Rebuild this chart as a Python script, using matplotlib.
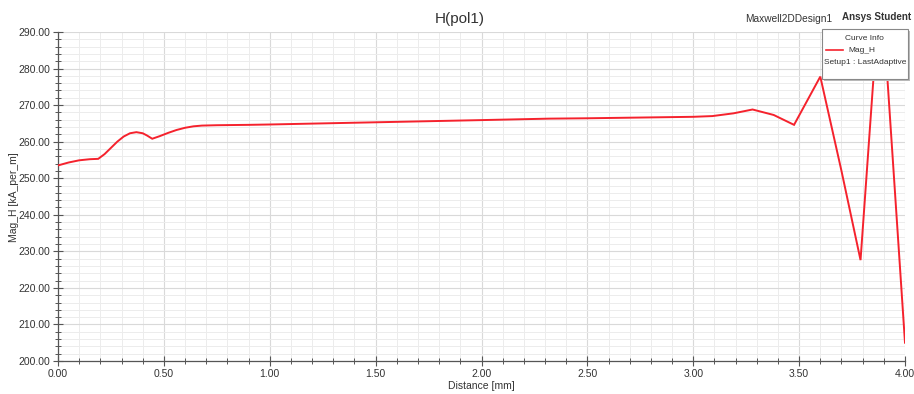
import matplotlib
matplotlib.use("Agg")
import matplotlib.pyplot as plt
from matplotlib.patches import Rectangle
from matplotlib.ticker import MultipleLocator, FormatStrFormatter
from matplotlib.lines import Line2D

plt.rcParams['font.family'] = ['Liberation Sans', 'DejaVu Sans']

# Field strength along the polyline pol1
distance_mm = [0.00, 0.05, 0.10, 0.15, 0.19, 0.22, 0.25, 0.28, 0.31, 0.34, 0.37, 0.40,
               0.42, 0.445, 0.48, 0.52, 0.56, 0.60, 0.64, 0.68, 0.75, 0.90, 1.00,
               1.25, 1.50, 1.75, 2.00, 2.32, 2.50, 2.75, 3.00, 3.09, 3.19, 3.28,
               3.38, 3.476, 3.60, 3.70, 3.79, 3.885, 4.00]
mag_h = [253.5, 254.3, 254.9, 255.2, 255.3, 256.6, 258.3, 260.0, 261.4, 262.3, 262.6, 262.3,
         261.7, 260.8, 261.5, 262.4, 263.2, 263.8, 264.2, 264.4, 264.5, 264.6, 264.7,
         265.0, 265.3, 265.6, 265.9, 266.3, 266.4, 266.6, 266.8, 267.0, 267.75, 268.8,
         267.3, 264.6, 277.8, 252.0, 227.6, 305.0, 205.0]

x_ticks_major = 0.5
y_ticks_major = 10

fig = plt.figure(figsize=(9.14, 3.94), dpi=100)
W, H = 914, 394
ax = fig.add_axes([58 / W, 1 - 361 / H, (905 - 58) / W, (361 - 32) / H])

ax.plot(distance_mm, mag_h, color='#f5222d', lw=1.4, solid_joinstyle='miter', zorder=3)

ax.set_xlim(0, 4)
ax.set_ylim(200, 290)
ax.xaxis.set_major_locator(MultipleLocator(x_ticks_major))
ax.xaxis.set_minor_locator(MultipleLocator(0.1))
ax.yaxis.set_major_locator(MultipleLocator(y_ticks_major))
ax.yaxis.set_minor_locator(MultipleLocator(2))
ax.xaxis.set_major_formatter(FormatStrFormatter('%.2f'))
ax.yaxis.set_major_formatter(FormatStrFormatter('%.2f'))

ax.grid(which='major', color='#d9d9d9', lw=0.8)
ax.grid(which='minor', color='#ececec', lw=0.7)
ax.set_axisbelow(True)

for s in ('top', 'right'):
    ax.spines[s].set_visible(False)
for s in ('left', 'bottom'):
    ax.spines[s].set_color('#555555')
    ax.spines[s].set_linewidth(0.9)

ax.tick_params(which='major', direction='inout', length=7, width=0.8, color='#555555',
               labelsize=7.5, labelcolor='#333333', pad=2)
ax.tick_params(which='minor', direction='inout', length=4, width=0.7, color='#555555')

def fx(px):
    return px / W

def fy(py):
    return 1 - py / H

fig.text(fx(481), fy(386), 'Distance [mm]', ha='center', va='center', fontsize=7.5, color='#333333')
fig.text(fx(14), fy(197), 'Mag_H [kA_per_m]', ha='center', va='center', rotation=90,
         fontsize=7.5, color='#333333')

fig.text(fx(460), fy(19), 'H(pol1)', ha='center', va='center', fontsize=11, color='#333333')
fig.text(fx(789), fy(19), 'Maxwell2DDesign1', ha='center', va='center', fontsize=7.3, color='#333333')
fig.text(fx(877), fy(17), 'Ansys Student', ha='center', va='center', fontsize=7.1,
         color='#333333', fontweight='bold')

# Curve info box
shadow = Rectangle((fx(824), fy(81)), fx(86), (81 - 31) / H, transform=fig.transFigure,
                   facecolor='#bbbbbb', edgecolor='none', zorder=9)
box = Rectangle((fx(821.5), fy(79)), fx(86), (79 - 29) / H, transform=fig.transFigure,
                facecolor='white', edgecolor='#888888', lw=0.8, zorder=10)
fig.patches.extend([shadow, box])
fig.text(fx(864), fy(38), 'Curve Info', ha='center', va='center', fontsize=6, color='#333333', zorder=11)
fig.lines.append(Line2D([fx(826), fx(843)], [fy(50), fy(50)], transform=fig.transFigure,
                        color='#f5222d', lw=1.2, zorder=11))
fig.text(fx(848), fy(50), 'Mag_H', ha='left', va='center', fontsize=6, color='#333333', zorder=11)
fig.text(fx(824), fy(62), 'Setup1 : LastAdaptive', ha='left', va='center', fontsize=6,
         color='#333333', zorder=11)

fig.savefig('out.png', dpi=100, facecolor='white')
